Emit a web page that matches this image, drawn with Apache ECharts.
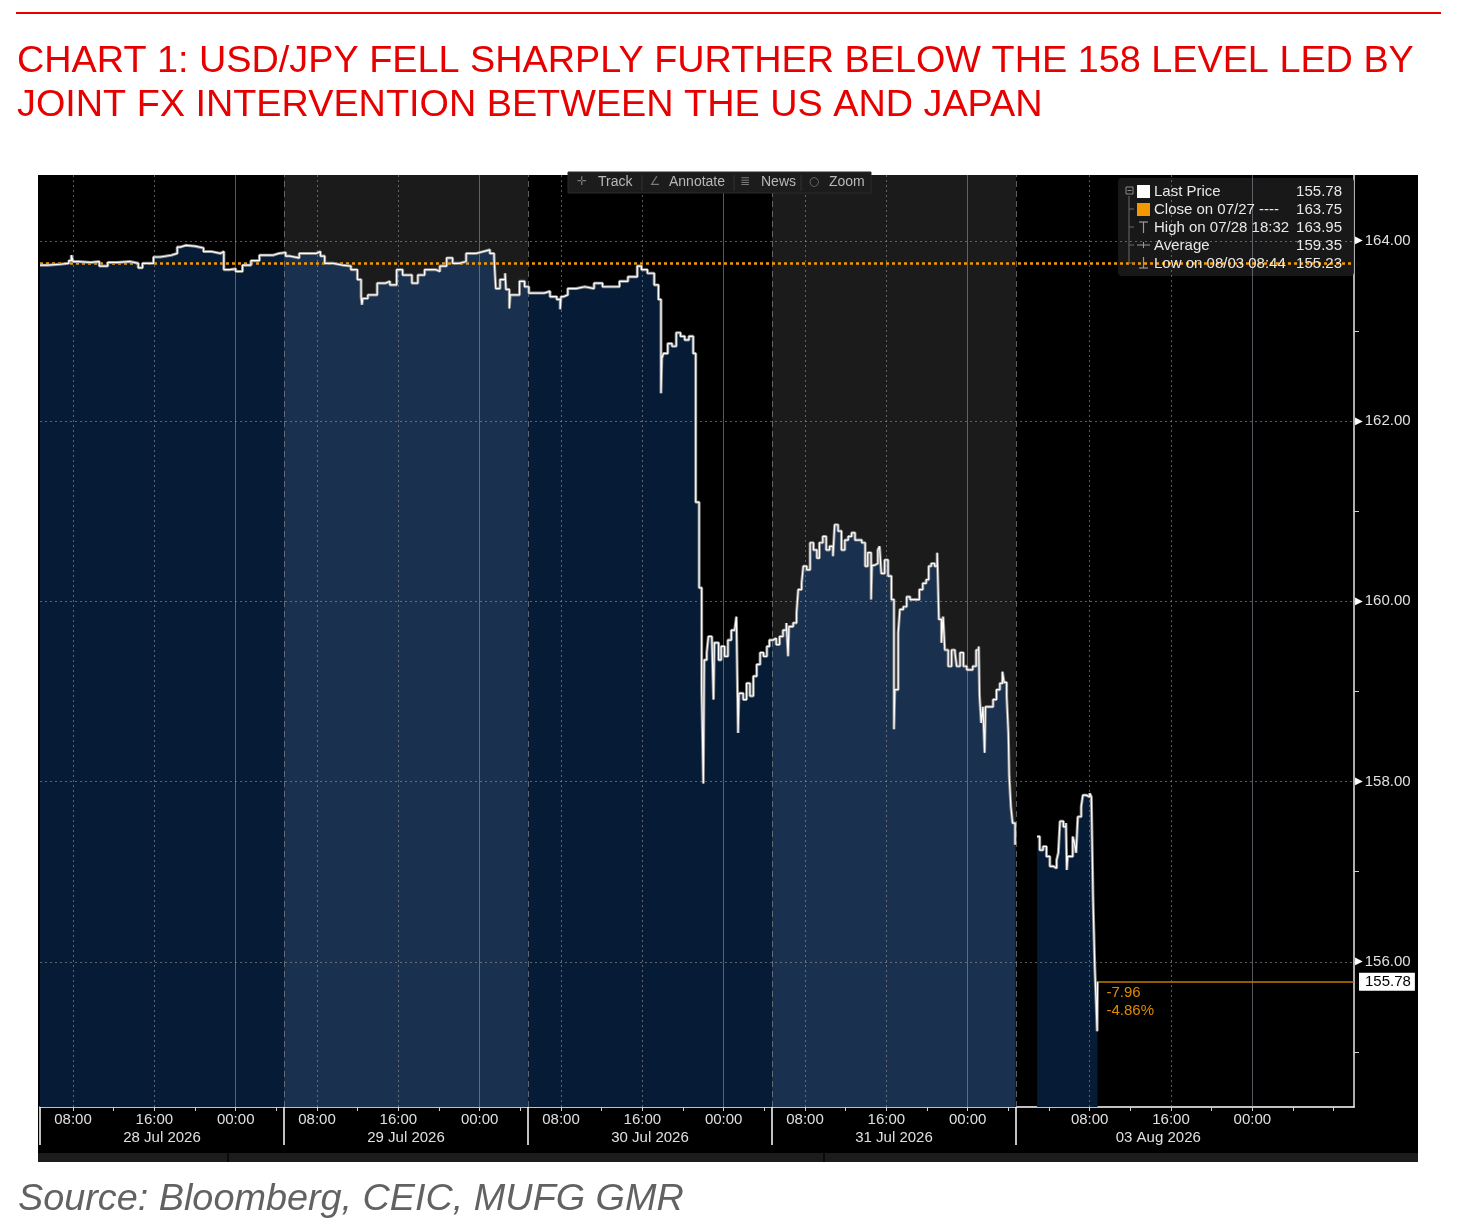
<!DOCTYPE html>
<html>
<head>
<meta charset="utf-8">
<script src="https://cdn.jsdelivr.net/npm/echarts@6/dist/echarts.min.js"></script>
<style>html,body{margin:0;padding:0;background:#fff}#c{width:1465px;height:1232px}</style>
</head>
<body>
<div id="c"></div>
<script>
// ---------- DATA ----------
const times = [
'07/28 04:45','07/28 05:30','07/28 06:45','07/28 07:35','07/28 07:50','07/28 08:00','07/28 08:30','07/28 09:45','07/28 10:35','07/28 11:25',
'07/28 12:20','07/28 13:35','07/28 14:25','07/28 14:50','07/28 15:55','07/28 16:35','07/28 17:40','07/28 18:15','07/28 18:32','07/28 19:05',
'07/28 20:00','07/28 20:50','07/28 21:40','07/28 22:30','07/28 22:50','07/28 23:25','07/29 00:00','07/29 00:40','07/29 01:30','07/29 02:20',
'07/29 03:40','07/29 04:15',
'07/29 04:55','07/29 05:20','07/29 06:15','07/29 07:05','07/29 07:55','07/29 08:20','07/29 08:45','07/29 09:35','07/29 10:30','07/29 11:20',
'07/29 11:58','07/29 12:20','07/29 12:25','07/29 12:30','07/29 13:00','07/29 13:55','07/29 14:45','07/29 15:10','07/29 15:50','07/29 16:25',
'07/29 17:20','07/29 17:55','07/29 18:35','07/29 19:40','07/29 20:05','07/29 20:45','07/29 21:20','07/29 22:00','07/29 22:40','07/29 23:40',
'07/30 00:20','07/30 01:00','07/30 01:25','07/30 01:35','07/30 02:00','07/30 02:30','07/30 02:35','07/30 02:55','07/30 03:00','07/30 03:20',
'07/30 03:55','07/30 04:25',
'07/30 04:50','07/30 05:40','07/30 06:20','07/30 06:55','07/30 07:35','07/30 07:55','07/30 08:00','07/30 08:15','07/30 08:40','07/30 09:30',
'07/30 10:20','07/30 11:15','07/30 12:05','07/30 12:55','07/30 13:45','07/30 14:35','07/30 15:30','07/30 15:55','07/30 16:30','07/30 17:10',
'07/30 17:35','07/30 17:50','07/30 17:55','07/30 18:05','07/30 18:30','07/30 18:55','07/30 19:20','07/30 19:45','07/30 20:10','07/30 20:35',
'07/30 21:00','07/30 21:15','07/30 21:35','07/30 21:50','07/30 22:00','07/30 22:05','07/30 22:20','07/30 22:30','07/30 22:50','07/30 23:00',
'07/30 23:05','07/30 23:30','07/30 23:45','07/31 00:05','07/31 00:25','07/31 00:45','07/31 01:05','07/31 01:15','07/31 01:25','07/31 01:30',
'07/31 01:55','07/31 02:15','07/31 02:35','07/31 02:55','07/31 03:15','07/31 03:35','07/31 03:55','07/31 04:15','07/31 04:30',
'07/31 04:50','07/31 05:10','07/31 05:30','07/31 05:50','07/31 06:10','07/31 06:20','07/31 06:25','07/31 06:50','07/31 07:10','07/31 07:20',
'07/31 07:40','07/31 07:50','07/31 08:10','07/31 08:30','07/31 08:50','07/31 09:10','07/31 09:25','07/31 09:45','07/31 10:05','07/31 10:25',
'07/31 10:45','07/31 10:55','07/31 11:15','07/31 11:35','07/31 11:55','07/31 12:15','07/31 12:35','07/31 12:55','07/31 13:15','07/31 13:35',
'07/31 13:55','07/31 14:10','07/31 14:30','07/31 14:35','07/31 14:50','07/31 15:10','07/31 15:20','07/31 15:30','07/31 15:50','07/31 16:10',
'07/31 16:30','07/31 16:45','07/31 16:50','07/31 17:10','07/31 17:20','07/31 17:40','07/31 18:00','07/31 18:20','07/31 19:00','07/31 19:15',
'07/31 19:35','07/31 19:55','07/31 20:10','07/31 20:25','07/31 20:45','07/31 21:00','07/31 21:10','07/31 21:25','07/31 21:35','07/31 21:45',
'07/31 22:05','07/31 22:25','07/31 22:45','07/31 22:55','07/31 23:15','07/31 23:35','07/31 23:55','08/01 00:10','08/01 00:30','08/01 00:50',
'08/01 01:05','08/01 01:10','08/01 01:20','08/01 01:30','08/01 01:40','08/01 01:45','08/01 02:10','08/01 02:30','08/01 02:50','08/01 03:10',
'08/01 03:25','08/01 03:35','08/01 03:50','08/01 04:00','08/01 04:05','08/01 04:15','08/01 04:25','08/01 04:40',
'08/03 02:50','08/03 03:05','08/03 03:25','08/03 03:45','08/03 04:05','08/03 04:25','08/03 04:45','08/03 04:55','08/03 05:05','08/03 05:25',
'08/03 05:40','08/03 05:45','08/03 05:50','08/03 06:20','08/03 06:30','08/03 06:40','08/03 06:50','08/03 07:10','08/03 07:20','08/03 07:40',
'08/03 08:00','08/03 08:10','08/03 08:20','08/03 08:30','08/03 08:38','08/03 08:44','08/03 08:46'
];
const prices = [
163.73,163.74,163.75,163.78,163.84,163.77,163.76,163.77,163.72,163.76,
163.77,163.75,163.70,163.75,163.82,163.84,163.86,163.93,163.95,163.94,
163.92,163.88,163.86,163.88,163.68,163.69,163.66,163.73,163.78,163.84,
163.86,163.87,
163.83,163.81,163.86,163.86,163.88,163.83,163.75,163.73,163.72,163.68,
163.57,163.38,163.29,163.36,163.40,163.53,163.55,163.51,163.68,163.62,
163.53,163.62,163.68,163.66,163.72,163.81,163.75,163.77,163.86,163.88,
163.90,163.86,163.81,163.47,163.57,163.64,163.46,163.25,163.40,163.40,
163.55,163.49,
163.42,163.42,163.44,163.38,163.35,163.24,163.38,163.40,163.47,163.49,
163.47,163.53,163.49,163.49,163.55,163.60,163.72,163.68,163.64,163.51,
163.35,162.31,162.70,162.75,162.86,162.83,162.98,162.94,162.90,162.94,
162.75,161.10,160.15,159.02,157.98,159.35,159.43,159.61,159.61,158.91,
159.54,159.35,159.50,159.39,159.57,159.68,159.70,159.83,158.54,158.98,
158.91,159.09,158.95,159.17,159.30,159.43,159.39,159.50,159.57,
159.59,159.52,159.61,159.68,159.76,159.39,159.72,159.76,159.87,160.13,
160.20,160.39,160.35,160.65,160.57,160.48,160.65,160.72,160.57,160.61,
160.50,160.85,160.78,160.57,160.68,160.72,160.76,160.68,160.68,160.65,
160.39,160.54,160.02,160.40,160.42,160.57,160.61,160.31,160.46,160.28,
160.02,158.58,159.02,159.65,159.91,159.94,160.05,160.02,160.02,160.13,
160.20,160.24,160.39,160.42,160.39,160.54,159.80,159.54,159.83,159.46,
159.28,159.46,159.43,159.28,159.43,159.28,159.24,159.24,159.28,159.46,
159.50,158.95,158.65,158.83,158.32,158.83,158.83,158.91,159.02,159.09,
159.22,159.10,158.95,158.54,158.06,157.72,157.54,157.30,
157.39,157.24,157.28,157.17,157.06,157.04,157.13,157.21,157.56,157.50,
157.54,157.02,157.17,157.39,157.32,157.21,157.61,157.72,157.85,157.83,
157.87,157.83,156.69,155.95,155.55,155.23,155.78
];
const closePrev = 163.75;                 // Close on 07/27
const lastPrice = 155.78;
const changeText = ['-7.96', '-4.86%'];
const timeLabels = ['07/28 08:00','07/28 16:00','07/29 00:00','07/29 08:00','07/29 16:00','07/30 00:00',
  '07/30 08:00','07/30 16:00','07/31 00:00','07/31 08:00','07/31 16:00','08/01 00:00',
  '08/03 08:00','08/03 16:00','08/04 00:00'];
const dateLabels = ['28 Jul 2026','29 Jul 2026','30 Jul 2026','31 Jul 2026','03 Aug 2026'];
const dateLabelAt = ['07/28 16:45','07/29 16:45','07/30 16:45','07/31 16:45','08/03 14:45'];
const sessionStarts = ['07/28 04:45','07/29 04:45','07/30 04:45','07/31 04:45','08/01 04:45'];
const axisEnd = '08/04 10:00';
const yTickLabels = [156, 158, 160, 162, 164];
const legendLabels = ['Last Price','Close on 07/27 ----','High on 07/28 18:32','Average','Low on 08/03 08:44'];
const legendValues = ['155.78','163.75','163.95','159.35','155.23'];
const toolbarLabels = ['Track','Annotate','News','Zoom'];
const titleLines = ['CHART 1: USD/JPY FELL SHARPLY FURTHER BELOW THE 158 LEVEL LED BY',
                    'JOINT FX INTERVENTION BETWEEN THE US AND JAPAN'];
const sourceText = 'Source: Bloomberg, CEIC, MUFG GMR';

// ---------- helpers ----------
// trading-time axis (weekend compressed, as in the picture)
const dayOffset = {'07/28':0,'07/29':24,'07/30':48,'07/31':72,'08/01':96,'08/03':100,'08/04':124};
function toAxis(ts){ const [d,t]=ts.split(' '); const [h,m]=t.split(':').map(Number); return dayOffset[d]+h+m/60; }
const pts = times.map((t,i)=>[toAxis(t), prices[i]]);
const bounds = sessionStarts.map(toAxis).concat([toAxis(axisEnd)]);
const xMin = bounds[0], xMax = bounds[bounds.length-1];
const yMin = 154.39, yMax = 164.73;
const GAP = 1.5;

const lineData = [];
pts.forEach((p,i)=>{
  if(i>0 && p[0]-pts[i-1][0] > GAP) lineData.push([pts[i-1][0]+0.01, '-']);
  lineData.push(p);
});

const shades = ['#051b36','#19304e','#051b36','#19304e','#051b36'];
const areaSeries = [];
for(let s=0;s<sessionStarts.length;s++){
  const a=bounds[s], b=bounds[s+1];
  const idx=[]; pts.forEach((p,i)=>{ if(p[0]>=a && p[0]<b) idx.push(i); });
  if(!idx.length) continue;
  const seg=[];
  const f=idx[0], l=idx[idx.length-1];
  if(f>0 && pts[f][0]-pts[f-1][0] <= GAP) seg.push([a, pts[f-1][1]]);
  idx.forEach(i=>seg.push(pts[i]));
  if(l<pts.length-1 && pts[l+1][0]-pts[l][0] <= GAP) seg.push([b, pts[l][1]]);
  areaSeries.push({
    type:'line', step:'end', data:seg, symbol:'none', z:2, silent:true,
    lineStyle:{width:0, opacity:0}, areaStyle:{color:shades[s], opacity:1, origin:'start'},
    animation:false
  });
}

const labelPos = timeLabels.map(toAxis);
const tickPos = []; for(let v=8; v<=xMax; v+=4) tickPos.push(v);
const datePos = dateLabelAt.map(toAxis);

const vLines = [];
timeLabels.forEach((t,i)=>{
  const isMid = t.endsWith('00:00');
  vLines.push({xAxis: labelPos[i], lineStyle: isMid
    ? {type:'solid', color:'rgba(150,158,170,0.55)', width:1}
    : {type:[2,3], color:'rgba(150,150,150,0.6)', width:1}});
});
bounds.slice(1,-1).forEach(b=>vLines.push({xAxis:b, lineStyle:{type:[6,4], color:'rgba(140,140,140,0.65)', width:1}}));
const hLines = yTickLabels.map(v=>({yAxis:v, lineStyle:{type:[2,3], color:'rgba(150,150,150,0.6)', width:1}}));

const FONT = '"Liberation Sans", Arial, sans-serif';
const lastX = pts[pts.length-1][0];

const chart = echarts.init(document.getElementById('c'), null, {renderer:'canvas', width:1465, height:1232});

// legend graphic
const LX = 1118, LY = 178;
const legendEls = [
  {type:'rect', shape:{x:LX, y:LY, width:236, height:98, r:4}, style:{fill:'rgba(26,26,26,0.92)'}, z:4},
  {type:'line', shape:{x1:1129, y1:196, x2:1129, y2:264}, style:{stroke:'#6a6a6a', lineWidth:1}, z:8},
  {type:'rect', shape:{x:1126, y:187, width:7, height:7}, style:{fill:'none', stroke:'#8a8a8a', lineWidth:1}, z:8},
  {type:'line', shape:{x1:1127.5, y1:190.5, x2:1131.5, y2:190.5}, style:{stroke:'#8a8a8a', lineWidth:1}, z:8},
  {type:'rect', shape:{x:1137, y:185, width:13, height:13}, style:{fill:'#ffffff'}, z:8},
  {type:'rect', shape:{x:1137, y:203, width:13, height:13}, style:{fill:'#f39800'}, z:8},
  {type:'line', shape:{x1:1139, y1:222, x2:1148, y2:222}, style:{stroke:'#9a9a9a', lineWidth:1.2}, z:8},
  {type:'line', shape:{x1:1143.5, y1:222, x2:1143.5, y2:233}, style:{stroke:'#9a9a9a', lineWidth:1.2}, z:8},
  {type:'line', shape:{x1:1137, y1:245, x2:1150, y2:245}, style:{stroke:'#9a9a9a', lineWidth:1}, z:8},
  {type:'line', shape:{x1:1143.5, y1:242, x2:1143.5, y2:248}, style:{stroke:'#9a9a9a', lineWidth:1}, z:8},
  {type:'line', shape:{x1:1143.5, y1:257, x2:1143.5, y2:268}, style:{stroke:'#9a9a9a', lineWidth:1.2}, z:8},
  {type:'line', shape:{x1:1139, y1:268, x2:1148, y2:268}, style:{stroke:'#9a9a9a', lineWidth:1.2}, z:8}
];
[209,227,245,263].forEach(y=>legendEls.push({type:'line', shape:{x1:1129, y1:y, x2:1134, y2:y}, style:{stroke:'#6a6a6a', lineWidth:1}, z:8}));
legendLabels.forEach((t,i)=>{
  const y = 192 + i*18;
  legendEls.push({type:'text', x:1154, y:y, style:{text:t, fill:'#e8e8e8', font:'15px '+FONT, verticalAlign:'middle', align:'left'}, z:8});
  legendEls.push({type:'text', x:1342, y:y, style:{text:legendValues[i], fill:'#e8e8e8', font:'15px '+FONT, verticalAlign:'middle', align:'right'}, z:8});
});

// toolbar graphic
const tbIcons = ['\u271B','\u2220','\u2263','\u25CB'];
const tbIconX = [582, 655, 745, 814];
const tbTextX = [598, 669, 761, 829];
const toolbarEls = [
  {type:'rect', shape:{x:568, y:172, width:303, height:21}, style:{fill:'#1c1c1c', stroke:'#2a2a2a'}, z:9},
  ...[642, 734, 801].map(x=>({type:'line', shape:{x1:x, y1:175, x2:x, y2:191}, style:{stroke:'#333', lineWidth:1}, z:9}))
];
toolbarLabels.forEach((t,i)=>{
  toolbarEls.push({type:'text', x:tbIconX[i], y:182, style:{text:tbIcons[i], fill:'#7a7a7a', font:'12px "DejaVu Sans", sans-serif', align:'center', verticalAlign:'middle'}, z:10});
  toolbarEls.push({type:'text', x:tbTextX[i], y:182, style:{text:t, fill:'#b8b8b8', font:'14px '+FONT, align:'left', verticalAlign:'middle'}, z:10});
});

const option = {
  animation:false,
  backgroundColor:'#ffffff',
  grid:{left:40, right:111, top:175, bottom:125, containLabel:false},
  graphic:[
    {type:'line', shape:{x1:16, y1:13, x2:1441, y2:13}, style:{stroke:'#e60000', lineWidth:2}, z:0},
    {type:'text', x:17, y:62, style:{text:titleLines[0], fill:'#e60000', font:'37.8px '+FONT, verticalAlign:'middle'}, z:0},
    {type:'text', x:17, y:106, style:{text:titleLines[1], fill:'#e60000', font:'37.8px '+FONT, verticalAlign:'middle'}, z:0},
    {type:'rect', shape:{x:38, y:175, width:1380, height:987}, style:{fill:'#000000'}, z:-10, zlevel:0},
    {type:'rect', shape:{x:38, y:1153, width:1380, height:9}, style:{fill:'#1c1c1c'}, z:-9},
    {type:'line', shape:{x1:228, y1:1153, x2:228, y2:1162}, style:{stroke:'#0a0a0a', lineWidth:2}, z:-8},
    {type:'line', shape:{x1:824, y1:1153, x2:824, y2:1162}, style:{stroke:'#0a0a0a', lineWidth:2}, z:-8},
    {type:'text', x:18, y:1199, style:{text:sourceText, fill:'#626262', font:'italic 37.8px '+FONT, verticalAlign:'middle'}, z:0},
    ...legendEls,
    ...toolbarEls
  ],
  xAxis:[
    {type:'value', min:xMin, max:xMax, position:'bottom',
     axisLine:{show:true, onZero:false, lineStyle:{color:'#ffffff', width:1.5}},
     axisTick:{show:true, customValues:tickPos, length:4, lineStyle:{color:'#d0d0d0'}},
     axisLabel:{show:true, customValues:labelPos, margin:5, color:'#e0e0e0', fontSize:15, fontFamily:FONT,
       formatter:(v)=>{ const i=labelPos.findIndex(p=>Math.abs(p-v)<1e-6); return i>=0 ? timeLabels[i].split(' ')[1] : ''; }},
     splitLine:{show:false}},
    {type:'value', min:xMin, max:xMax, position:'bottom',
     axisLine:{show:false, onZero:false},
     axisTick:{show:true, customValues:bounds.slice(0,-1), length:38, lineStyle:{color:'#ffffff', width:1.5}},
     axisLabel:{show:true, customValues:datePos, margin:23, color:'#e0e0e0', fontSize:15, fontFamily:FONT,
       formatter:(v)=>{ const i=datePos.findIndex(p=>Math.abs(p-v)<1e-6); return i>=0 ? dateLabels[i] : ''; }},
     splitLine:{show:false}}
  ],
  yAxis:{type:'value', position:'right', min:yMin, max:yMax, scale:true,
    axisLine:{show:true, lineStyle:{color:'#e8e8e8', width:1.5}},
    axisTick:{show:true, customValues:[155,156,157,158,159,160,161,162,163,164], length:5, lineStyle:{color:'#d0d0d0'}},
    axisLabel:{show:true, customValues:yTickLabels, margin:1,
      formatter:(v)=>'{a|\u25B6}{b|'+v.toFixed(2)+'}',
      rich:{a:{color:'#ffffff', fontSize:10, fontFamily:'"DejaVu Sans", sans-serif', padding:[0,2,0,0]},
            b:{color:'#e0e0e0', fontSize:15, fontFamily:FONT}}},
    splitLine:{show:false}},
  series:[
    {type:'line', data:[], z:1, silent:true,
     markArea:{silent:true, itemStyle:{color:'#1b1b1b'},
       data:[[{xAxis:bounds[1]},{xAxis:bounds[2]}],[{xAxis:bounds[3]},{xAxis:bounds[4]}]]}},
    ...areaSeries,
    {type:'line', data:[], z:3, silent:true,
     markLine:{silent:true, symbol:['none','none'], label:{show:false}, animation:false, data:[...vLines, ...hLines]}},
    {type:'line', step:'end', data:lineData, symbol:'none', z:5, silent:true, connectNulls:false,
     lineStyle:{color:'#8a8a8a', width:3}},
    {type:'line', step:'end', data:lineData, symbol:'none', z:6, silent:true, connectNulls:false,
     lineStyle:{color:'#ffffff', width:1.2},
     markLine:{silent:true, symbol:['none','none'], animation:false,
       data:[[{coord:[lastX,lastPrice]},{coord:[xMax,lastPrice],
         label:{show:true, position:'end', distance:5, formatter:String(lastPrice.toFixed(2)),
           backgroundColor:'#ffffff', color:'#000000', padding:[2,4,1,6], fontSize:15, fontFamily:FONT}}]],
       lineStyle:{color:'#c47a00', width:1.5, type:'solid'}},
     markPoint:{silent:true, animation:false,
       data:[{coord:[lastX,lastPrice], symbol:'circle', symbolSize:0,
         itemStyle:{color:'rgba(0,0,0,0)'},
         label:{show:true, position:[9,2], formatter:changeText.join('\n'), color:'#e08a00',
           fontSize:15, lineHeight:18, fontFamily:FONT, align:'left'}}]}},
    {type:'line', data:[], z:7, silent:true,
     markLine:{silent:true, symbol:['none','none'], label:{show:false}, animation:false,
       data:[{yAxis:closePrev}], lineStyle:{color:'#f39800', width:2.5, type:[3,3]}}}
  ]
};
chart.setOption(option);
</script>
</body>
</html>
